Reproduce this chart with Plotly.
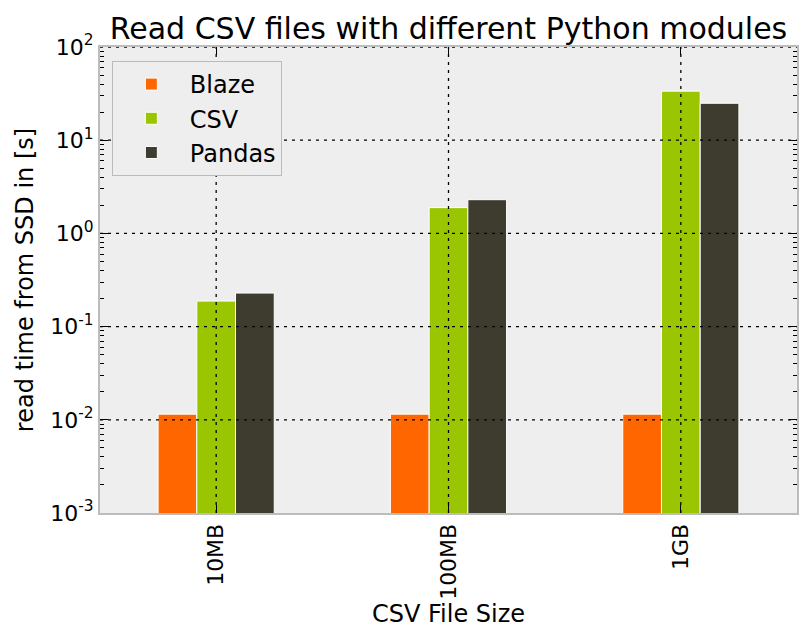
import plotly.graph_objects as go

categories = ["10MB", "100MB", "1GB"]
blaze = [0.0115, 0.0115, 0.0115]
csv_vals = [0.188, 1.89, 33.6]
pandas_vals = [0.229, 2.30, 24.9]
series_names = ["Blaze", "CSV", "Pandas"]
colors = ["#FF6600", "#99C600", "#3E3C2E"]
ytick_vals = [1e-3, 1e-2, 1e-1, 1e0, 1e1, 1e2]
ytick_text = ["10<sup>-3</sup>", "10<sup>-2</sup>", "10<sup>-1</sup>",
              "10<sup>0</sup>", "10<sup>1</sup>", "10<sup>2</sup>"]
minor_vals = [k * d for d in ytick_vals[:-1] for k in range(2, 10)]

FONT = "DejaVu Sans"
W, H = 804, 631  # page body has an 8px margin

fig = go.Figure()
for name, vals, col in zip(series_names, [blaze, csv_vals, pandas_vals], colors):
    fig.add_trace(go.Bar(x=categories, y=vals, name=name, legendgroup=name,
                         marker=dict(color=col, line=dict(color="white", width=1))))

shapes = []
grid = dict(color="black", width=1.3, dash="3px,5px")
for yv in ytick_vals[1:]:
    shapes.append(dict(type="line", xref="paper", yref="y", x0=0, x1=1, y0=yv, y1=yv,
                       line=grid, layer="above"))
for c in categories:
    shapes.append(dict(type="line", xref="x", yref="paper", x0=c, x1=c, y0=0, y1=1,
                       line=grid, layer="above"))

fig.update_layout(
    width=W, height=H,
    margin=dict(l=92, r=15, t=39, b=126, autoexpand=False),
    paper_bgcolor="white", plot_bgcolor="#EEEEEE",
    font=dict(family=FONT, size=22, color="black"),
    title=dict(text="Read CSV files with different Python modules",
               x=440.5 / W, xanchor="center", y=1 - 20 / H, yanchor="middle",
               font=dict(size=30), automargin=False),
    barmode="group", bargap=0.5, bargroupgap=0,
    showlegend=True,
    legend=dict(x=0.017, y=0.97, xanchor="left", yanchor="top",
                bgcolor="#EEEEEE", bordercolor="#BBBBBB", borderwidth=1,
                font=dict(size=24), traceorder="normal", itemwidth=67,
                tracegroupgap=8),
    shapes=shapes,
    xaxis=dict(type="category", range=[-0.5, 2.5], tickangle=-90,
               ticks="inside", ticklen=8, tickcolor="black", tickwidth=1,
               showline=True, linecolor="#BCBCBC", linewidth=2, mirror="allticks",
               showgrid=False, automargin=False,
               title=dict(text="CSV File Size", font=dict(size=24), standoff=4)),
    yaxis=dict(type="log", range=[-3, 2], tickvals=ytick_vals, ticktext=ytick_text,
               ticks="inside", ticklen=8, tickcolor="black", tickwidth=1,
               minor=dict(tickvals=minor_vals, ticks="inside", ticklen=4,
                          tickcolor="black", tickwidth=1, showgrid=False),
               showline=True, linecolor="#BCBCBC", linewidth=2, mirror="allticks",
               showgrid=False, zeroline=False, automargin=False,
               title=dict(text="read time from SSD in [s]", font=dict(size=24), standoff=10)),
)

fig.write_html("out.html")
